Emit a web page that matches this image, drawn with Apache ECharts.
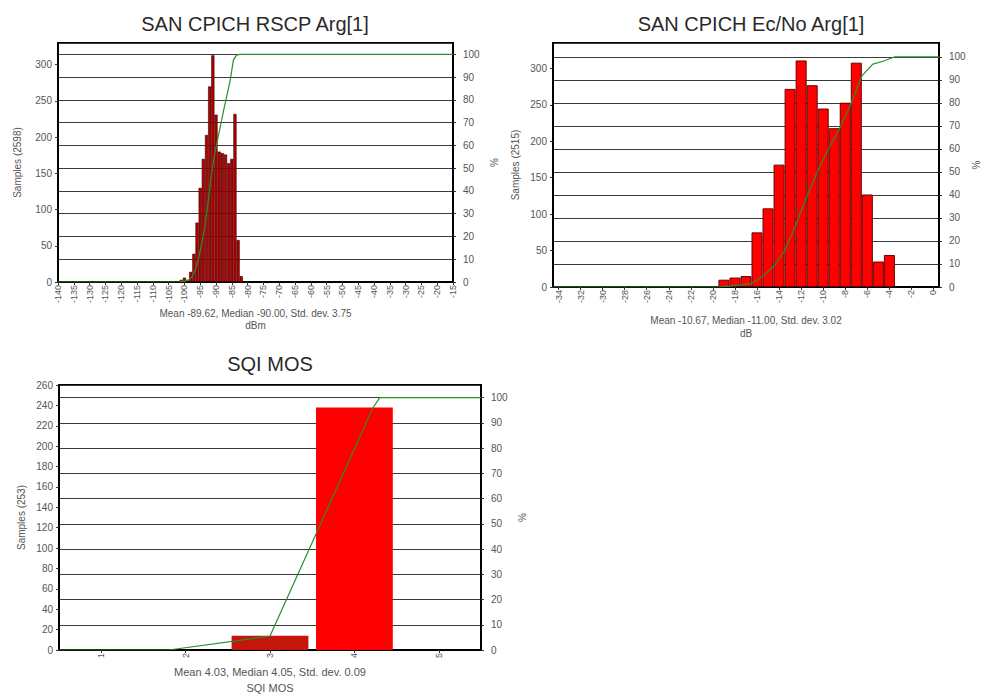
<!DOCTYPE html>
<html><head><meta charset="utf-8">
<script src="https://cdn.jsdelivr.net/npm/echarts@6/dist/echarts.min.js"></script>
<style>html,body{margin:0;padding:0;background:#fff}#c{width:983px;height:697px}</style>
</head><body><div id="c"></div>
<script>
// ---- Chart 1: SAN CPICH RSCP Arg[1] (dBm, 1 dB bins) ----
const rscpBins   = [-101,-100,-99,-98,-97,-96,-95,-94,-93,-92,-91,-90,-89,-88,-87,-86,-85,-84,-83,-82];
const rscpCounts = [3,6,3,14,39,82,130,170,203,270,313,231,180,178,176,164,170,232,58,8];
const rscpCdfX   = [-140,-101.5,-100.5,-99.5,-98.5,-97.5,-96.5,-95.5,-94.5,-93.5,-92.5,-91.5,-90.5,-89.5,-88.5,-87.5,-86.5,-85.5,-84.5,-83.5,-82.5,-15];
const rscpCdfPct = [0,0.1,0.3,0.5,1.0,2.5,5.6,10.5,17.0,24.7,35.0,46.9,55.7,62.5,69.3,76.0,82.2,88.7,97.5,99.7,100,100];

// ---- Chart 2: SAN CPICH Ec/No Arg[1] (dB, 1 dB bins) ----
const ecBins   = [-19,-18,-17,-16,-15,-14,-13,-12,-11,-10,-9,-8,-7,-6,-5,-4];
const ecCounts = [10,13,15,75,108,168,272,311,277,245,218,253,308,127,35,44];
const ecCdfX   = [-34.5,-19.5,-18.5,-17.5,-16.5,-15.5,-14.5,-13.5,-12.5,-11.5,-10.5,-9.5,-8.5,-7.5,-6.5,-5.5,-4.5,-3.5,0.5];
const ecCdfPct = [0,0,0.4,0.9,1.5,4.6,8.9,15.7,26.7,39.2,50.4,60.3,69.1,79.3,91.7,96.8,98.2,100,100];
const ecTicks  = [-34,-32,-30,-28,-26,-24,-22,-20,-18,-16,-14,-12,-10,-8,-6,-4,-2,0];

// ---- Chart 3: SQI MOS ----
const mosCats   = [1,2,3,4,5];
const mosCounts = [0,0,14,238,0];
const mosCdfX   = [0.5,1.8,3.0,4.22,4.3,5.5];
const mosCdfPct = [0,0,5.5,96,100,100];

const FONT = "'Liberation Sans', Arial, sans-serif";
const pairs = (xs, ys) => xs.map((x, i) => [x, ys[i]]);

const lbl = (extra) => Object.assign({color:'#555', fontSize:10, fontFamily:FONT, margin:6}, extra || {});
const axLine = {show:true, onZero:false, lineStyle:{color:'#000', width:2}};
const tick = {show:true, length:3, lineStyle:{color:'#333'}};
const gridLines = {show:true, lineStyle:{color:'#3a3a3a', width:1}};
const nameStyle = (lh) => ({color:'#555', fontSize:10, fontFamily:FONT, lineHeight:lh || 12});
const lineStyle = {color:'#2a8f2a', width:1.2};

const chart = echarts.init(document.getElementById('c'), null, {renderer:'svg'});
chart.setOption({
  animation:false,
  backgroundColor:'#fff',
  title:[
    {text:'SAN CPICH RSCP Arg[1]', left:255, top:14, textAlign:'center', padding:0,
     textStyle:{fontSize:20, fontWeight:'normal', color:'#2a2a2a', fontFamily:FONT}},
    {text:'SAN CPICH Ec/No Arg[1]', left:751, top:14, textAlign:'center', padding:0,
     textStyle:{fontSize:20, fontWeight:'normal', color:'#2a2a2a', fontFamily:FONT}},
    {text:'SQI MOS', left:270, top:354, textAlign:'center', padding:0,
     textStyle:{fontSize:20, fontWeight:'normal', color:'#2a2a2a', fontFamily:FONT}}
  ],
  grid:[
    {left:58, top:43, width:395, height:239, show:true, borderColor:'#000', borderWidth:2, backgroundColor:'#fff'},
    {left:553, top:43, width:395, height:244, show:true, borderColor:'#000', borderWidth:2, backgroundColor:'#fff'},
    {left:59, top:385, width:422, height:270, show:true, borderColor:'#000', borderWidth:2, backgroundColor:'#fff'}
  ],
  xAxis:[
    {gridIndex:0, type:'value', min:-140, max:-15, interval:5,
     axisLine:axLine, axisTick:tick, splitLine:{show:false},
     axisLabel:lbl({rotate:90, fontSize:9, margin:3}),
     name:'Mean -89.62, Median -90.00, Std. dev. 3.75\ndBm', nameLocation:'middle', nameGap:25, nameTextStyle:nameStyle(12)},
    {gridIndex:1, type:'value', min:-34.5, max:0.5,
     axisLine:axLine, axisTick:Object.assign({customValues:ecTicks}, tick), splitLine:{show:false},
     axisLabel:lbl({rotate:90, fontSize:9, margin:3, customValues:ecTicks}),
     name:'Mean -10.67, Median -11.00, Std. dev. 3.02\ndB', nameLocation:'middle', nameGap:27, nameTextStyle:nameStyle(13)},
    {gridIndex:2, type:'value', min:0.5, max:5.5,
     axisLine:axLine, axisTick:Object.assign({customValues:mosCats}, tick), splitLine:{show:false},
     axisLabel:lbl({rotate:90, fontSize:9, margin:3, customValues:mosCats}),
     name:'Mean 4.03, Median 4.05, Std. dev. 0.09\nSQI MOS', nameLocation:'middle', nameGap:14,
     nameTextStyle:Object.assign(nameStyle(16), {fontSize:11})}
  ],
  yAxis:[
    {gridIndex:0, type:'value', min:0, max:330, interval:50, position:'left',
     axisLine:axLine, axisTick:tick, splitLine:{show:false}, axisLabel:lbl({showMaxLabel:false}),
     name:'Samples (2598)', nameLocation:'middle', nameGap:35, nameTextStyle:nameStyle()},
    {gridIndex:0, type:'value', min:0, max:105, interval:10, position:'right',
     axisLine:axLine, axisTick:tick, splitLine:gridLines, axisLabel:lbl({showMaxLabel:false, margin:10}),
     name:'%', nameLocation:'middle', nameGap:35, nameTextStyle:nameStyle()},
    {gridIndex:1, type:'value', min:0, max:335, interval:50, position:'left',
     axisLine:axLine, axisTick:tick, splitLine:{show:false}, axisLabel:lbl({showMaxLabel:false}),
     name:'Samples (2515)', nameLocation:'middle', nameGap:32, nameTextStyle:nameStyle()},
    {gridIndex:1, type:'value', min:0, max:106, interval:10, position:'right',
     axisLine:axLine, axisTick:tick, splitLine:gridLines, axisLabel:lbl({showMaxLabel:false, margin:10}),
     name:'%', nameLocation:'middle', nameGap:31, nameTextStyle:nameStyle()},
    {gridIndex:2, type:'value', min:0, max:260, interval:20, position:'left',
     axisLine:axLine, axisTick:tick, splitLine:{show:false}, axisLabel:lbl(),
     name:'Samples (253)', nameLocation:'middle', nameGap:32, nameTextStyle:nameStyle()},
    {gridIndex:2, type:'value', min:0, max:105, interval:10, position:'right',
     axisLine:axLine, axisTick:tick, splitLine:gridLines, axisLabel:lbl({showMaxLabel:false, margin:10}),
     name:'%', nameLocation:'middle', nameGap:35, nameTextStyle:nameStyle()}
  ],
  series:[
    {type:'bar', xAxisIndex:0, yAxisIndex:0, data:pairs(rscpBins, rscpCounts), barWidth:'100%', z:2,
     itemStyle:{color:'#b00000', borderColor:'#3a0000', borderWidth:0.6}},
    {type:'line', xAxisIndex:0, yAxisIndex:1, data:pairs(rscpCdfX, rscpCdfPct), showSymbol:false, z:5,
     lineStyle:lineStyle},
    {type:'bar', xAxisIndex:1, yAxisIndex:2, data:pairs(ecBins, ecCounts), barWidth:'100%', z:2,
     itemStyle:{color:'#ff0000', borderColor:'#6a0000', borderWidth:1}},
    {type:'line', xAxisIndex:1, yAxisIndex:3, data:pairs(ecCdfX, ecCdfPct), showSymbol:false, z:5,
     lineStyle:lineStyle},
    {type:'bar', xAxisIndex:2, yAxisIndex:4, data:pairs(mosCats, mosCounts), barWidth:'91%', z:2,
     itemStyle:{color:(p) => (p.value[1] < 50 ? '#c4160c' : '#ff0000')}},
    {type:'line', xAxisIndex:2, yAxisIndex:5, data:pairs(mosCdfX, mosCdfPct), showSymbol:false, z:5,
     lineStyle:lineStyle}
  ]
});
</script></body></html>
